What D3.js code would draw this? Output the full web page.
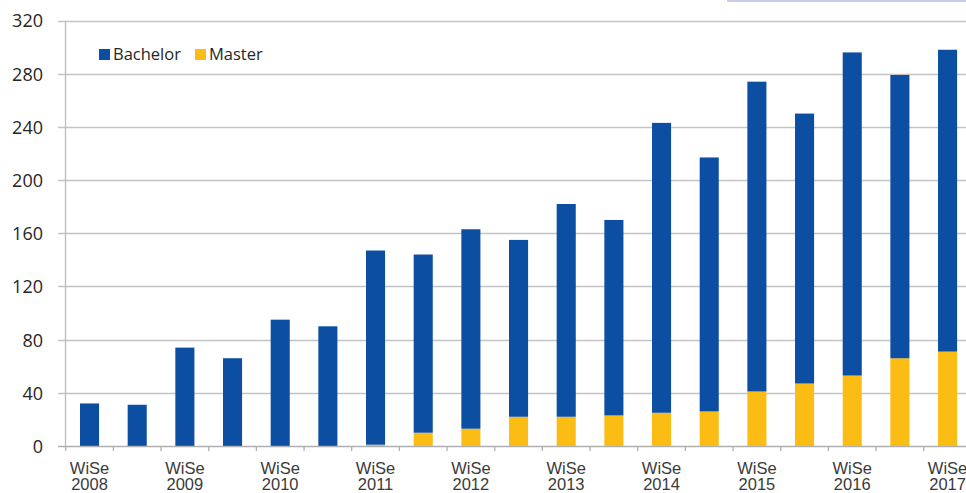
<!DOCTYPE html>
<html>
<head>
<meta charset="utf-8">
<script src="https://cdn.jsdelivr.net/npm/d3@7"></script>
<style>
  html, body { margin: 0; padding: 0; background: #fff; }
  svg { display: block; }
</style>
</head>
<body>
<svg id="chart" width="966" height="493"></svg>
<script>
// Enrolment per semester, stacked Bachelor + Master
const categories = ["WiSe 2008", "SoSe 2009", "WiSe 2009", "SoSe 2010", "WiSe 2010", "SoSe 2011",
  "WiSe 2011", "SoSe 2012", "WiSe 2012", "SoSe 2013", "WiSe 2013", "SoSe 2014", "WiSe 2014",
  "SoSe 2015", "WiSe 2015", "SoSe 2016", "WiSe 2016", "SoSe 2017", "WiSe 2017"];
const bachelor = [32, 31, 74, 66, 95, 90, 146, 134, 150, 133, 160, 147, 218, 191, 233, 203, 243, 213, 227];
const master   = [0, 0, 0, 0, 0, 0, 1, 10, 13, 22, 22, 23, 25, 26, 41, 47, 53, 66, 71];
// Only every second category carries a visible label
const tickLabels = ["WiSe 2008", "", "WiSe 2009", "", "WiSe 2010", "", "WiSe 2011", "", "WiSe 2012", "",
  "WiSe 2013", "", "WiSe 2014", "", "WiSe 2015", "", "WiSe 2016", "", "WiSe 2017"];
const yTicks = [0, 40, 80, 120, 160, 200, 240, 280, 320];
const seriesNames = ["Bachelor", "Master"];
const colors = { Bachelor: "#0b4ea2", Master: "#fbbd14" };

const svg = d3.select("#chart");
const W = 966;

const x = d3.scaleBand()
  .domain(categories)
  .range([65.7, 971.4])
  .paddingInner(0.6)
  .paddingOuter(0.3);

const y = d3.scaleLinear().domain([0, 320]).range([446, 20.5]);

// horizontal gridlines
svg.append("g")
  .selectAll("line")
  .data(yTicks.filter(d => d > 0))
  .join("line")
  .attr("x1", 58).attr("x2", W)
  .attr("y1", d => Math.round(y(d)) + 0.5).attr("y2", d => Math.round(y(d)) + 0.5)
  .attr("stroke", "#c4c4c4").attr("stroke-width", 1.3);

// y axis labels
const yAxis = d3.axisLeft(y).tickValues(yTicks).tickSize(0).tickPadding(0);
const gy = svg.append("g").attr("transform", "translate(43,0)").call(yAxis);
gy.select(".domain").remove();
gy.selectAll("text")
  .attr("font-family", "'Open Sans', sans-serif")
  .attr("font-size", 18)
  .attr("fill", "#262626")
  .attr("dy", "0.36em");

// stacked bars
const rows = categories.map((c, i) => ({ cat: c, Bachelor: bachelor[i], Master: master[i] }));
const stacked = d3.stack().keys(["Master", "Bachelor"])(rows);

svg.append("g")
  .selectAll("g")
  .data(stacked)
  .join("g")
  .attr("fill", d => colors[d.key])
  .selectAll("rect")
  .data(d => d)
  .join("rect")
  .attr("x", d => x(d.data.cat))
  .attr("width", x.bandwidth())
  .attr("y", d => y(d[1]))
  .attr("height", d => y(d[0]) - y(d[1]));

// y axis line
svg.append("line")
  .attr("x1", 65.5).attr("x2", 65.5)
  .attr("y1", y(320)).attr("y2", y(0))
  .attr("stroke", "#bdbdbd").attr("stroke-width", 1.3);

// x axis with tick marks at category boundaries
const step = x.step();
const x0 = x.range()[0];
const boundaries = d3.range(categories.length + 1).map(i => x0 + i * step);
svg.append("line")
  .attr("x1", 58).attr("x2", W)
  .attr("y1", Math.round(y(0)) + 0.5).attr("y2", Math.round(y(0)) + 0.5)
  .attr("stroke", "#b0b0b0").attr("stroke-width", 1.3);
svg.append("g")
  .selectAll("line")
  .data(boundaries)
  .join("line")
  .attr("x1", d => d).attr("x2", d => d)
  .attr("y1", y(0)).attr("y2", y(0) + 5)
  .attr("stroke", "#b0b0b0").attr("stroke-width", 1.3);

// x labels (two lines)
const xl = svg.append("g")
  .selectAll("text")
  .data(categories.map((c, i) => ({ c, label: tickLabels[i] })).filter(d => d.label))
  .join("text")
  .attr("text-anchor", "middle")
  .attr("font-family", "'Liberation Sans', Arial, sans-serif")
  .attr("font-size", 16.5)
  .attr("fill", "#3a3a3a");
xl.each(function(d) {
  const parts = d.label.split(" ");
  const t = d3.select(this);
  const cx = x(d.c) + x.bandwidth() / 2;
  t.append("tspan").attr("x", cx).attr("y", 473.5).text(parts[0]);
  t.append("tspan").attr("x", cx).attr("y", 490).text(parts[1]);
});

// legend
const legend = svg.append("g");
const legendItems = [
  { name: seriesNames[0], sx: 99, tx: 113 },
  { name: seriesNames[1], sx: 195, tx: 209 }
];
legendItems.forEach(it => {
  legend.append("rect")
    .attr("x", it.sx).attr("y", 49).attr("width", 11).attr("height", 11)
    .attr("fill", colors[it.name]);
  legend.append("text")
    .attr("x", it.tx).attr("y", 60)
    .attr("font-family", "'Open Sans', sans-serif")
    .attr("font-size", 16.5)
    .attr("fill", "#262626")
    .text(it.name);
});

// thin frame edge along the top right
svg.append("rect")
  .attr("x", 727).attr("y", 0).attr("width", W - 727).attr("height", 2)
  .attr("fill", "#c9cced");
</script>
</body>
</html>
